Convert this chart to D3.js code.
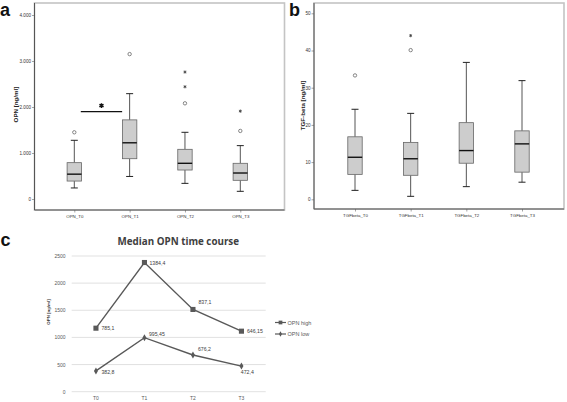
<!DOCTYPE html>
<html><head><meta charset="utf-8">
<script src="https://cdn.jsdelivr.net/npm/d3@7/dist/d3.min.js"></script>
<style>body{margin:0;background:#fff}svg{display:block}</style>
</head><body>
<svg id="chart" width="567" height="402"></svg>
<script>
// ---------- Panel a: OPN boxplots ----------
const opnCategories = ["OPN_T0", "OPN_T1", "OPN_T2", "OPN_T3"];
const opnWhiskerLow = [240, 490, 340, 167];
const opnQ1 = [390, 876, 630, 406];
const opnMedian = [540, 1222, 776, 565];
const opnQ3 = [790, 1720, 1080, 776];
const opnWhiskerHigh = [1276, 2290, 1450, 1160];
const opnOutlierCategory = ["OPN_T0", "OPN_T1", "OPN_T2", "OPN_T2", "OPN_T2", "OPN_T3", "OPN_T3"];
const opnOutlierValue = [1450, 3150, 2080, 2440, 2760, 1480, 1910];
const opnOutlierKind = ["circle", "circle", "circle", "star", "star", "circle", "star"];
const opnTicks = [0, 1000, 2000, 3000, 4000];
const opnSignificanceValue = 1900;

// ---------- Panel b: TGF-beta boxplots ----------
const tgfCategories = ["TGFbeta_T0", "TGFbeta_T1", "TGFbeta_T2", "TGFbeta_T3"];
const tgfWhiskerLow = [2.4, 0.8, 3.4, 4.6];
const tgfQ1 = [6.7, 6.45, 9.7, 7.3];
const tgfMedian = [11.3, 10.9, 13.1, 14.9];
const tgfQ3 = [16.8, 15.3, 20.6, 18.4];
const tgfWhiskerHigh = [24.2, 23.1, 36.8, 31.9];
const tgfOutlierCategory = ["TGFbeta_T0", "TGFbeta_T1", "TGFbeta_T1"];
const tgfOutlierValue = [33.3, 40.1, 44.0];
const tgfOutlierKind = ["circle", "circle", "star"];
const tgfTicks = [0, 10, 20, 30, 40, 50];

// ---------- Panel c: median OPN time course ----------
const timeCategories = ["T0", "T1", "T2", "T3"];
const opnHighValues = [1170, 2380, 1515, 1115];
const opnLowValues = [383, 995, 676, 472];
const opnHighLabels = ["785,1", "1384,4", "837,1", "646,15"];
const opnLowLabels = ["382,8", "995,45", "676,2", "472,4"];
const seriesNames = ["OPN high", "OPN low"];
const timeTicks = [0, 500, 1000, 1500, 2000, 2500];

const svg = d3.select("#chart");
const FONT = "'Liberation Sans', Arial, sans-serif";
const de = d3.formatLocale({decimal: ",", thousands: ".", grouping: [3], currency: ["", ""]});
const fmtThousands = de.format(",");

function boxPanel(cfg) {
  const g = svg.append("g");
  const {left, right, top, bottom} = cfg.frame;
  const x = d3.scalePoint().domain(cfg.cats).range(cfg.xRange);
  const y = d3.scaleLinear().domain(cfg.yDomain).range(cfg.yRange);

  g.append("rect").attr("x", left).attr("y", top).attr("width", right - left).attr("height", bottom - top)
    .attr("fill", "none").attr("stroke", "#c4c4c4").attr("stroke-width", 1.6);
  const yAxis = d3.axisLeft(y).tickValues(cfg.ticks).tickSize(2.5).tickPadding(1).tickFormat(cfg.tickFormat);
  const ya = g.append("g").attr("transform", `translate(${left},0)`).call(yAxis);
  ya.select(".domain").remove();
  ya.selectAll("text").attr("font-family", FONT).attr("font-size", 4.6).attr("fill", "#333");
  ya.selectAll("line").attr("stroke", "#666").attr("stroke-width", 0.6);
  g.append("line").attr("x1", left).attr("x2", left).attr("y1", top).attr("y2", bottom).attr("stroke", "#555").attr("stroke-width", 1);
  const xAxis = d3.axisBottom(x).tickSize(2.5).tickPadding(2);
  const xa = g.append("g").attr("transform", `translate(0,${bottom})`).call(xAxis);
  xa.select(".domain").remove();
  xa.selectAll("text").attr("font-family", FONT).attr("font-size", 4.4).attr("fill", "#333");
  xa.selectAll("line").attr("stroke", "#666").attr("stroke-width", 0.6);
  g.append("line").attr("x1", left).attr("x2", right).attr("y1", bottom).attr("y2", bottom).attr("stroke", "#555").attr("stroke-width", 1);

  g.append("text").attr("transform", `translate(${cfg.titleX},${cfg.titleY}) rotate(-90)`)
    .attr("text-anchor", "middle").attr("dominant-baseline", "central")
    .attr("font-family", FONT).attr("font-weight", "bold").attr("font-size", 6.2).attr("fill", "#222")
    .text(cfg.yTitle);

  const bw = 14.4, cw = 7;
  cfg.cats.forEach((c, i) => {
    const cx = x(c);
    const bg = g.append("g");
    bg.append("line").attr("x1", cx).attr("x2", cx).attr("y1", y(cfg.wHigh[i])).attr("y2", y(cfg.q3[i])).attr("stroke", "#555").attr("stroke-width", 1);
    bg.append("line").attr("x1", cx).attr("x2", cx).attr("y1", y(cfg.q1[i])).attr("y2", y(cfg.wLow[i])).attr("stroke", "#555").attr("stroke-width", 1);
    bg.append("line").attr("x1", cx - cw / 2).attr("x2", cx + cw / 2).attr("y1", y(cfg.wHigh[i])).attr("y2", y(cfg.wHigh[i])).attr("stroke", "#222").attr("stroke-width", 1);
    bg.append("line").attr("x1", cx - cw / 2).attr("x2", cx + cw / 2).attr("y1", y(cfg.wLow[i])).attr("y2", y(cfg.wLow[i])).attr("stroke", "#222").attr("stroke-width", 1);
    bg.append("rect").attr("x", cx - bw / 2).attr("y", y(cfg.q3[i])).attr("width", bw).attr("height", y(cfg.q1[i]) - y(cfg.q3[i]))
      .attr("fill", "#cdcdcd").attr("stroke", "#666").attr("stroke-width", 0.8);
    bg.append("line").attr("x1", cx - bw / 2).attr("x2", cx + bw / 2).attr("y1", y(cfg.med[i])).attr("y2", y(cfg.med[i])).attr("stroke", "#111").attr("stroke-width", 1.4);
  });
  cfg.outCat.forEach((c, i) => {
    const cx = x(c), cy = y(cfg.outVal[i]);
    if (cfg.outKind[i] === "circle") {
      g.append("circle").attr("cx", cx).attr("cy", cy).attr("r", 1.7).attr("fill", "none").attr("stroke", "#555").attr("stroke-width", 0.7);
    } else {
      g.append("path").attr("d", d3.symbol(d3.symbolAsterisk).size(7)()).attr("transform", `translate(${cx},${cy})`)
        .attr("fill", "none").attr("stroke", "#444").attr("stroke-width", 0.9);
    }
  });
  return {g, x, y};
}

const pa = boxPanel({
  frame: {left: 34.5, right: 284.5, top: 3, bottom: 210},
  cats: opnCategories, xRange: [74.3, 240.3], yDomain: [0, 4000], yRange: [199, 15],
  ticks: opnTicks, tickFormat: fmtThousands, yTitle: "OPN [ng/ml]", titleX: 15.5, titleY: 104.5,
  wLow: opnWhiskerLow, q1: opnQ1, med: opnMedian, q3: opnQ3, wHigh: opnWhiskerHigh,
  outCat: opnOutlierCategory, outVal: opnOutlierValue, outKind: opnOutlierKind
});
{
  const x0 = pa.x(opnCategories[0]) + 6.5, x1 = pa.x(opnCategories[1]) - 7.5;
  const ys = pa.y(opnSignificanceValue);
  pa.g.append("line").attr("x1", x0).attr("x2", x1).attr("y1", ys).attr("y2", ys).attr("stroke", "#111").attr("stroke-width", 1.2);
  pa.g.append("path").attr("d", d3.symbol(d3.symbolAsterisk).size(16)()).attr("transform", `translate(${(x0 + x1) / 2},${ys - 6})`)
    .attr("fill", "none").attr("stroke", "#111").attr("stroke-width", 1.5);
}

boxPanel({
  frame: {left: 314, right: 564, top: 3, bottom: 209},
  cats: tgfCategories, xRange: [355, 522], yDomain: [0, 50], yRange: [199.3, 13.3],
  ticks: tgfTicks, tickFormat: d3.format("d"), yTitle: "TGF-beta [ng/ml]", titleX: 302, titleY: 105.5,
  wLow: tgfWhiskerLow, q1: tgfQ1, med: tgfMedian, q3: tgfQ3, wHigh: tgfWhiskerHigh,
  outCat: tgfOutlierCategory, outVal: tgfOutlierValue, outKind: tgfOutlierKind
});

// panel letters
[["a", 0, 16], ["b", 289, 16], ["c", 0.5, 246]].forEach(([t, lx, ly]) => {
  svg.append("text").attr("x", lx).attr("y", ly).attr("font-family", FONT).attr("font-weight", "bold")
    .attr("font-size", 18).attr("fill", "#111").text(t);
});

// ---------- Panel c ----------
{
  const g = svg.append("g");
  const x = d3.scaleBand().domain(timeCategories).range([71.7, 265.7]);
  const y = d3.scaleLinear().domain([0, 2500]).range([391.7, 256]);
  const cx = d => x(d) + x.bandwidth() / 2;
  const grey = "#595959";

  g.append("g").selectAll("line").data(timeTicks).join("line")
    .attr("x1", 71.7).attr("x2", 265.7).attr("y1", d => y(d)).attr("y2", d => y(d))
    .attr("stroke", "#d9d9d9").attr("stroke-width", 0.8);
  g.append("g").selectAll("text").data(timeTicks).join("text")
    .attr("x", 65.5).attr("y", d => y(d)).attr("text-anchor", "end").attr("dominant-baseline", "central")
    .attr("font-family", FONT).attr("font-size", 5).attr("fill", grey).text(d => d);
  g.append("g").selectAll("text").data(timeCategories).join("text")
    .attr("x", d => cx(d)).attr("y", 398.3).attr("text-anchor", "middle").attr("dominant-baseline", "central")
    .attr("font-family", FONT).attr("font-size", 5).attr("fill", grey).text(d => d);
  g.append("text").attr("transform", "translate(48.5,312) rotate(-90)").attr("text-anchor", "middle")
    .attr("dominant-baseline", "central").attr("font-family", FONT).attr("font-weight", "bold")
    .attr("font-size", 4.4).attr("fill", "#333").text("OPN [ng/ml]");
  g.append("text").attr("x", 178.3).attr("y", 245).attr("text-anchor", "middle")
    .attr("font-family", "'Open Sans', 'Liberation Sans', sans-serif").attr("font-weight", "bold")
    .attr("font-size", 9.8).attr("fill", "#404040").text("Median OPN time course");

  const line = d3.line().x((d, i) => cx(timeCategories[i])).y(d => y(d));
  g.append("path").datum(opnHighValues).attr("d", line).attr("fill", "none").attr("stroke", grey).attr("stroke-width", 1.4);
  g.append("path").datum(opnLowValues).attr("d", line).attr("fill", "none").attr("stroke", grey).attr("stroke-width", 1.4);
  const sq = d3.symbol(d3.symbolSquare).size(26)();
  const dm = d3.symbol(d3.symbolDiamond).size(14)();
  opnHighValues.forEach((v, i) => g.append("path").attr("d", sq).attr("transform", `translate(${cx(timeCategories[i])},${y(v)})`).attr("fill", grey));
  opnLowValues.forEach((v, i) => g.append("path").attr("d", dm).attr("transform", `translate(${cx(timeCategories[i])},${y(v)})`).attr("fill", grey));

  const highOffsets = [[5.5, 0], [5, 0], [5.5, -7.6], [5.5, 0]];
  const lowOffsets = [[5.5, 1], [4.5, -3.5], [5, -6], [-0.6, 6]];
  const labelStyle = sel => sel.attr("font-family", FONT).attr("font-size", 5.2).attr("fill", "#404040").attr("dominant-baseline", "central");
  opnHighLabels.forEach((t, i) => labelStyle(g.append("text")
    .attr("x", cx(timeCategories[i]) + highOffsets[i][0]).attr("y", y(opnHighValues[i]) + highOffsets[i][1])).text(t));
  opnLowLabels.forEach((t, i) => labelStyle(g.append("text")
    .attr("x", cx(timeCategories[i]) + lowOffsets[i][0]).attr("y", y(opnLowValues[i]) + lowOffsets[i][1])).text(t));

  const legY = [322.5, 334];
  seriesNames.forEach((n, i) => {
    g.append("line").attr("x1", 275).attr("x2", 286).attr("y1", legY[i]).attr("y2", legY[i]).attr("stroke", grey).attr("stroke-width", 1.2);
    g.append("path").attr("d", i === 0 ? d3.symbol(d3.symbolSquare).size(14)() : d3.symbol(d3.symbolDiamond).size(8)())
      .attr("transform", `translate(280.5,${legY[i]})`).attr("fill", grey);
    g.append("text").attr("x", 287.5).attr("y", legY[i]).attr("dominant-baseline", "central")
      .attr("font-family", FONT).attr("font-size", 5.5).attr("fill", grey).text(n);
  });
}
</script>
</body></html>
